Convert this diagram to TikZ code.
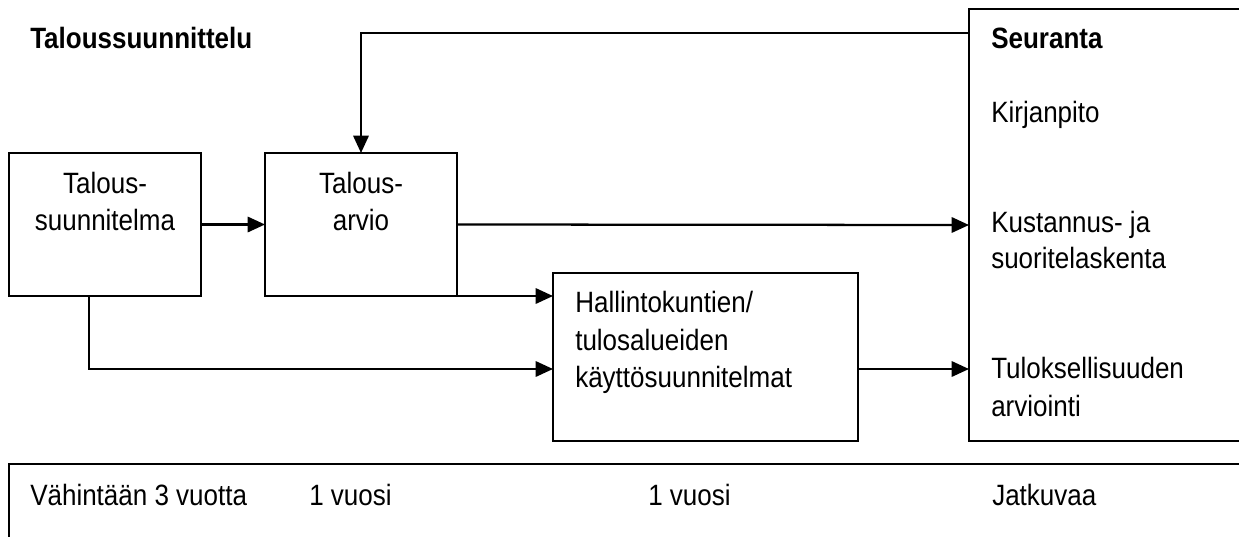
\documentclass[tikz,border=0pt]{standalone}
\usepackage{fontspec}
\setmainfont{Liberation Sans}
\usetikzlibrary{arrows.meta}
\newcommand{\vs}[1]{\scalebox{1}[1.13]{#1}}
\tikzset{
  box/.style={draw, line width=1.7pt, inner sep=0pt, outer sep=0pt, anchor=north west},
  conn/.style={line width=1.7pt},
  arr/.style={conn, -{Triangle[length=13pt, width=11.5pt]}},
  txt/.style={inner sep=0pt, anchor=base west, font=\fontsize{19.5}{22}\selectfont},
  ctxt/.style={txt, anchor=base},
  btxt/.style={txt, font=\fontsize{19.5}{22}\selectfont\bfseries}
}
\begin{document}
\begin{tikzpicture}[x=0.75pt, y=-0.75pt]
\useasboundingbox (0,0) rectangle (1239,536);
\clip (0,0) rectangle (1239,536);
% boxes
\node[box, minimum width=144pt, minimum height=107.25pt] (ts) at (9,153) {};
\node[box, minimum width=144pt, minimum height=107.25pt] (ta) at (265,153) {};
\node[box, minimum width=228.75pt, minimum height=126pt] (hk) at (553,273) {};
\node[box, minimum width=210.75pt, minimum height=324pt] (se) at (969,9) {};
\node[box, minimum width=930.75pt, minimum height=80pt] (bot) at (9,464) {};
% helper coordinates
\coordinate (fbk) at (0,33);
\coordinate (tsd) at (89,296);
\coordinate (row3) at (0,369);
% texts
\node[btxt] (title) at (30,48) {\vs{Taloussuunnittelu}};
\node[ctxt] (ts1) at (105,193) {\vs{Talous-}};
\node[ctxt] (ts2) at (105,230) {\vs{suunnitelma}};
\node[ctxt] (ta1) at (361,193) {\vs{Talous-}};
\node[ctxt] (ta2) at (361,230) {\vs{arvio}};
\node[txt] (hk1) at (575,312) {\vs{Hallintokuntien/}};
\node[txt] (hk2) at (575,350) {\vs{tulosalueiden}};
\node[txt] (hk3) at (575,387) {\vs{käyttösuunnitelmat}};
\node[btxt] (se0) at (991,48) {\vs{Seuranta}};
\node[txt] (se1) at (991,122) {\vs{Kirjanpito}};
\node[txt] (se2) at (991,232) {\vs{Kustannus- ja}};
\node[txt] (se3) at (991,268) {\vs{suoritelaskenta}};
\node[txt] (se4) at (991,378) {\vs{Tuloksellisuuden}};
\node[txt] (se5) at (991,416) {\vs{arviointi}};
\node[txt] (b1) at (30,505) {\vs{Vähintään 3 vuotta}};
\node[txt] (b2) at (309,505) {\vs{1 vuosi}};
\node[txt] (b3) at (648,505) {\vs{1 vuosi}};
\node[txt] (b4) at (992,505) {\vs{Jatkuvaa}};
% connectors
\draw[arr] (ts.east) -- (ta.west);
\draw[arr] (ta.east) -- (se.west);
\draw[arr] (se.west |- fbk) -| (ta.north);
\draw[arr] (ta.south east) -- (hk.west |- ta.south east);
\draw[arr] (tsd) |- (hk.west |- row3);
\draw[arr] (hk.east |- row3) -- (se.west |- row3);
\end{tikzpicture}
\end{document}
